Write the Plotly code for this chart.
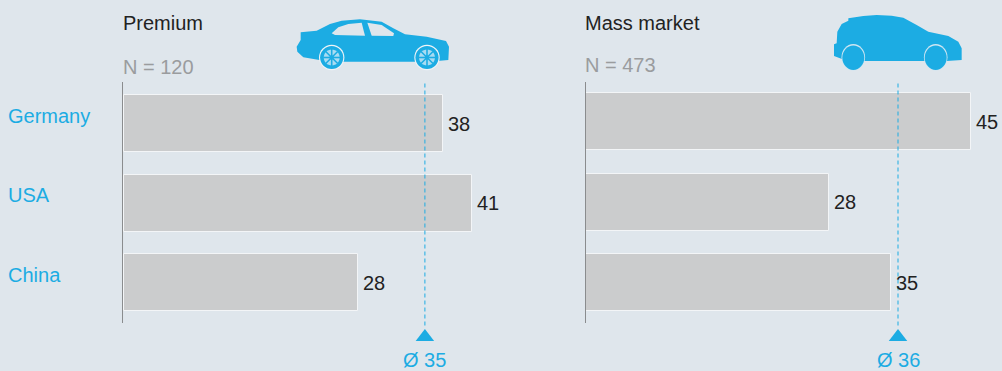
import plotly.graph_objects as go

categories = ["Germany", "USA", "China"]
premium_values = [37.5, 40.9, 27.5]
premium_labels = ["38", "41", "28"]
premium_avg = 35.4
premium_avg_label = "Ø 35"
mass_values = [44.5, 28.1, 35.3]
mass_labels = ["45", "28", "35"]
mass_avg = 36.07
mass_avg_label = "Ø 36"
titles = ["Premium", "Mass market"]
sample_labels = ["N = 120", "N = 473"]

W, H = 1002, 371
BG = "#dfe6ec"
BLUE = "#1cace3"
BAR = "#cbcccd"
EDGE = "#f3f5f7"
FONT = "Liberation Sans, Arial, sans-serif"
FS = 20
positions = [0, 1, 2]


def px(x):
    return x / W


def py(y):
    return 1 - y / H


def path(points):
    return "M" + " L".join(f"{px(x):.5f},{py(y):.5f}" for x, y in points) + " Z"


def ellipse(cx, cy, rx, ry):
    return (f"M{px(cx-rx):.5f},{py(cy):.5f} "
            f"C{px(cx-rx):.5f},{py(cy-ry*.55):.5f} {px(cx-rx*.55):.5f},{py(cy-ry):.5f} {px(cx):.5f},{py(cy-ry):.5f} "
            f"C{px(cx+rx*.55):.5f},{py(cy-ry):.5f} {px(cx+rx):.5f},{py(cy-ry*.55):.5f} {px(cx+rx):.5f},{py(cy):.5f} "
            f"C{px(cx+rx):.5f},{py(cy+ry*.55):.5f} {px(cx+rx*.55):.5f},{py(cy+ry):.5f} {px(cx):.5f},{py(cy+ry):.5f} "
            f"C{px(cx-rx*.55):.5f},{py(cy+ry):.5f} {px(cx-rx):.5f},{py(cy+ry*.55):.5f} {px(cx-rx):.5f},{py(cy):.5f} Z")


def fill_shape(d, color):
    return dict(type="path", xref="paper", yref="paper", path=d, fillcolor=color,
                line=dict(width=0), layer="above")


def zoomed(ox, pts):
    return [(ox + a / 3, b / 3) for a, b in pts]


shapes = []
# Sedan icon
sedan = zoomed(280, [(62, 97), (110, 92), (150, 72), (185, 62), (240, 58), (305, 65), (340, 85), (375, 103),
                     (440, 110), (498, 123), (507, 140), (505, 180), (480, 182), (400, 185), (190, 185),
                     (118, 180), (70, 172), (52, 155), (50, 140), (62, 120)])
shapes.append(fill_shape(path(sedan), BLUE))
shapes.append(fill_shape(path(zoomed(280, [(155, 100), (175, 82), (205, 72), (245, 68), (255, 107), (165, 105)])), BG))
shapes.append(fill_shape(path(zoomed(280, [(262, 68), (305, 75), (342, 100), (340, 108), (275, 107)])), BG))
for wx in (331.7, 427):
    shapes.append(fill_shape(ellipse(wx, 57.5, 12.7, 12.7), "#f0f4f7"))
    shapes.append(fill_shape(ellipse(wx, 57.5, 11.6, 11.6), BLUE))
    shapes.append(fill_shape(ellipse(wx, 57.5, 8.0, 8.0), "#a9dcf2"))
    for dx, dy in ((0, 8.5), (8.5, 0), (6, 6), (6, -6)):
        shapes.append(dict(type="line", xref="paper", yref="paper", layer="above",
                           x0=px(wx - dx), x1=px(wx + dx), y0=py(57.5 - dy), y1=py(57.5 + dy),
                           line=dict(color=BLUE, width=1.6)))
    shapes.append(fill_shape(ellipse(wx, 57.5, 2.2, 2.2), BLUE))
# Hatchback icon
hatch = zoomed(820, [(85, 55), (130, 48), (170, 45), (215, 47), (250, 53), (290, 75), (325, 95), (385, 108),
                     (415, 125), (425, 145), (425, 180), (380, 183), (135, 183), (68, 178), (42, 168), (42, 133),
                     (50, 130), (52, 95), (65, 72), (85, 62)])
shapes.append(fill_shape(path(hatch), BLUE))
for wx in (853.3, 935.7):
    shapes.append(fill_shape(ellipse(wx, 57.3, 11.8, 13.2), "#cfe6f2"))
    shapes.append(fill_shape(ellipse(wx, 57.8, 11.0, 12.2), BLUE))

fig = go.Figure()
panels = [
    ("x", "y", premium_values, premium_labels, premium_avg, premium_avg_label, 124, 500, 8.5, 123.5, 79.5, 83.5, 328, -1.5),
    ("x2", "y2", mass_values, mass_labels, mass_avg, mass_avg_label, 586, 1002, 8.65, 121.5, 80.5, 83.5, 326, -0.5),
]
annotations = []
layout_axes = {}
for i, (xa, ya, vals, labs, avg, avg_lab, x0, x1, scale, yc, step, dash_top, dash_bot, base_px) in enumerate(panels):
    to_y = lambda p: (p - yc) / step
    fig.add_trace(go.Bar(x=vals, y=positions, orientation="h", xaxis=xa, yaxis=ya, width=57 / step,
                         marker=dict(color=BAR, line=dict(color=EDGE, width=1)),
                         cliponaxis=False, showlegend=False, hoverinfo="skip"))
    for v, lab, p in zip(vals, labs, positions):
        annotations.append(dict(x=v, xref=xa, y=p, yref=ya, text=lab, showarrow=False, xanchor="left",
                                yanchor="middle", xshift=4, borderpad=0,
                                font=dict(size=FS, color="#222222", family=FONT)))
    # baseline axis
    fig.add_trace(go.Scatter(x=[base_px / scale, base_px / scale], y=[to_y(82), to_y(323)], mode="lines",
                             xaxis=xa, yaxis=ya, line=dict(color="#8a8c8e", width=1), showlegend=False,
                             hoverinfo="skip"))
    # average line
    fig.add_trace(go.Scatter(x=[avg, avg], y=[to_y(dash_top), to_y(dash_bot)], mode="lines", xaxis=xa, yaxis=ya,
                             line=dict(color=BLUE, width=1, dash="4px,3px"), showlegend=False, hoverinfo="skip"))
    # average triangle
    fig.add_trace(go.Scatter(x=[avg], y=[to_y(337)], mode="markers", xaxis=xa, yaxis=ya,
                             marker=dict(symbol="triangle-up", size=16, color=BLUE), showlegend=False,
                             hoverinfo="skip"))
    annotations.append(dict(x=avg, xref=xa, y=py(359.5), yref="paper", text=avg_lab, showarrow=False, borderpad=0,
                            font=dict(size=FS, color=BLUE, family=FONT), xanchor="center", yanchor="middle"))
    sx = "" if i == 0 else "2"
    layout_axes["xaxis" + sx] = dict(domain=[px(x0 - 2), px(x1)], range=[-2 / scale, (x1 - x0) / scale],
                                     visible=False, anchor=ya)
    layout_axes["yaxis" + sx] = dict(domain=[0, py(80)], range=[to_y(H), to_y(80)], visible=False, anchor=xa)

for text, x, y in zip(titles, [121, 583], [23, 23]):
    annotations.append(dict(x=px(x), xref="paper", y=py(y), yref="paper", text=text, showarrow=False,
                            xanchor="left", yanchor="middle", font=dict(size=FS, color="#222222", family=FONT)))
for text, x, y in zip(sample_labels, [121, 583], [67, 65]):
    annotations.append(dict(x=px(x), xref="paper", y=py(y), yref="paper", text=text, showarrow=False,
                            xanchor="left", yanchor="middle", font=dict(size=FS, color="#9a9c9e", family=FONT)))
for text, y in zip(categories, [116, 195, 275]):
    annotations.append(dict(x=px(6), xref="paper", y=py(y), yref="paper", text=text, showarrow=False,
                            xanchor="left", yanchor="middle", font=dict(size=FS, color=BLUE, family=FONT)))

fig.update_layout(width=W, height=H, margin=dict(l=0, r=0, t=0, b=0), paper_bgcolor=BG, plot_bgcolor=BG,
                  showlegend=False, shapes=shapes, annotations=annotations, bargap=0, **layout_axes)
fig.write_html("out.html", config={"displayModeBar": False},
               post_script="document.body.style.margin='0';document.body.style.background='#dfe6ec';")
